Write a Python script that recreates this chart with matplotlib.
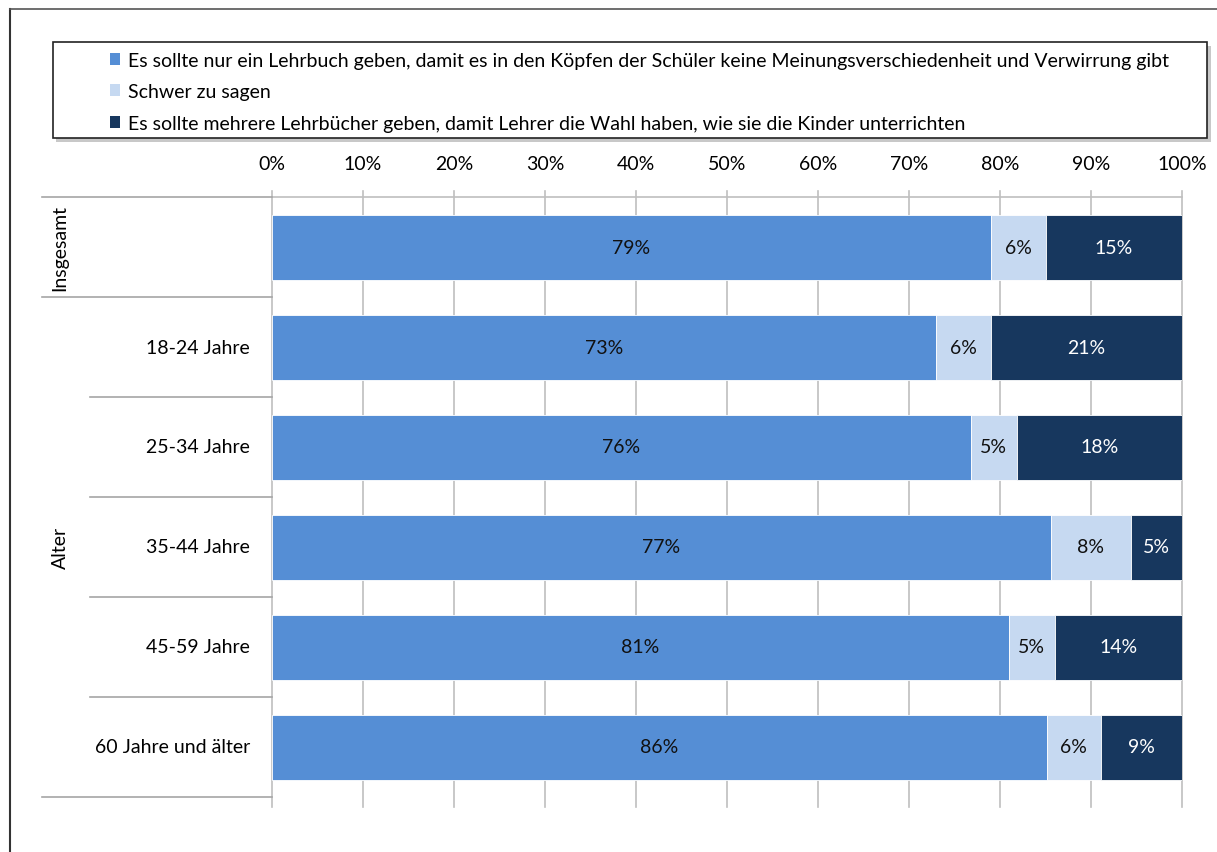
import matplotlib.pyplot as plt
from matplotlib.patches import Rectangle, Patch
from matplotlib.lines import Line2D
import numpy as np

plt.rcParams['font.family'] = ['Lato', 'DejaVu Sans']

# Daten
rows = ["Insgesamt", "18-24 Jahre", "25-34 Jahre", "35-44 Jahre", "45-59 Jahre", "60 Jahre und älter"]
one_book = [79, 73, 76, 77, 81, 86]
hard_to_say = [6, 6, 5, 8, 5, 6]
several_books = [15, 21, 18, 5, 14, 9]
series_names = [
    "Es sollte nur ein Lehrbuch geben, damit es in den Köpfen der Schüler keine Meinungsverschiedenheit und Verwirrung gibt",
    "Schwer zu sagen",
    "Es sollte mehrere Lehrbücher geben, damit Lehrer die Wahl haben, wie sie die Kinder unterrichten",
]
colors = ["#558ED5", "#C6D9F1", "#17375E"]
text_colors = ["#111111", "#111111", "white"]
FS = 14

W, H = 1217, 853
fig = plt.figure(figsize=(W / 100, H / 100), dpi=100)

def fx(px):
    return px / W

def fy(py):
    return 1 - py / H

ax = fig.add_axes([fx(272), fy(798), fx(1182) - fx(272), fy(198) - fy(798)])

data = np.array([one_book, hard_to_say, several_books], dtype=float)
shares = data / data.sum(axis=0) * 100
y = np.arange(len(rows))
left = np.zeros(len(rows))
for i in range(3):
    ax.barh(y, shares[i], left=left, height=0.65, color=colors[i],
            edgecolor="white", linewidth=0.6, zorder=3)
    for j in range(len(rows)):
        ax.text(left[j] + shares[i][j] / 2, y[j], f"{int(data[i][j])}%",
                ha="center", va="center", fontsize=FS, color=text_colors[i], zorder=4)
    left += shares[i]

ax.set_xlim(0, 100)
ax.set_ylim(len(rows) - 0.5, -0.5)
ax.set_yticks([])
ax.xaxis.tick_top()
ax.set_xticks(np.arange(0, 101, 10))
ax.set_xticklabels([f"{v}%" for v in range(0, 101, 10)], fontsize=FS)
ax.tick_params(axis="x", length=0, pad=18)
for s in ax.spines.values():
    s.set_visible(False)

# Gitterlinien, etwas über die Achse hinaus
for v in range(0, 101, 10):
    ax.plot([v, v], [-0.56, 5.6], color="#BFBFBF", linewidth=1.2, zorder=1, clip_on=False)
ax.plot([0, 100], [-0.5, -0.5], color="#BFBFBF", linewidth=1.2, zorder=1, clip_on=False)

# Kategorieachse links
tr = ax.get_yaxis_transform()
x_outer = (42 - 272) / 910
x_inner = (90 - 272) / 910
for yy, x0 in [(-0.5, x_outer), (0.5, x_outer), (1.5, x_inner), (2.5, x_inner),
               (3.5, x_inner), (4.5, x_inner), (5.5, x_outer)]:
    ax.plot([x0, 0], [yy, yy], color="#A6A6A6", linewidth=1.2, transform=tr, clip_on=False)
for j in range(1, len(rows)):
    ax.text(-0.024, y[j], rows[j], transform=tr, ha="right", va="center", fontsize=FS)
ax.text((60 - 272) / 910, 0, rows[0], transform=tr, rotation=90, ha="center", va="center", fontsize=FS)
ax.text((60 - 272) / 910, 3, "Alter", transform=tr, rotation=90, ha="center", va="center", fontsize=FS)

# Legende mit Rahmen und Schatten
fig.patches.append(Rectangle((fx(56), fy(143)), fx(1211) - fx(56), fy(43) - fy(139),
                             transform=fig.transFigure, facecolor="#C8C8C8", edgecolor="none", zorder=0))
fig.patches.append(Rectangle((fx(53), fy(139)), fx(1207) - fx(53), fy(43) - fy(139),
                             transform=fig.transFigure, facecolor="white", edgecolor="#222222",
                             linewidth=1.2, zorder=1))
handles = [Patch(facecolor=c, edgecolor="none") for c in colors]
leg = fig.legend(handles, series_names, loc="upper left", bbox_to_anchor=(fx(96), fy(39)),
                 frameon=False, fontsize=FS, handlelength=0.55, handleheight=0.55,
                 handletextpad=0.4, labelspacing=0.75, borderpad=0.2)

# äußerer Rahmen
fig.add_artist(Line2D([fx(10), fx(10)], [fy(10), 0], color="#333333", linewidth=1.5))
fig.add_artist(Line2D([fx(10), 1], [fy(10), fy(10)], color="#555555", linewidth=1.2))

fig.savefig("out.png", dpi=100)
